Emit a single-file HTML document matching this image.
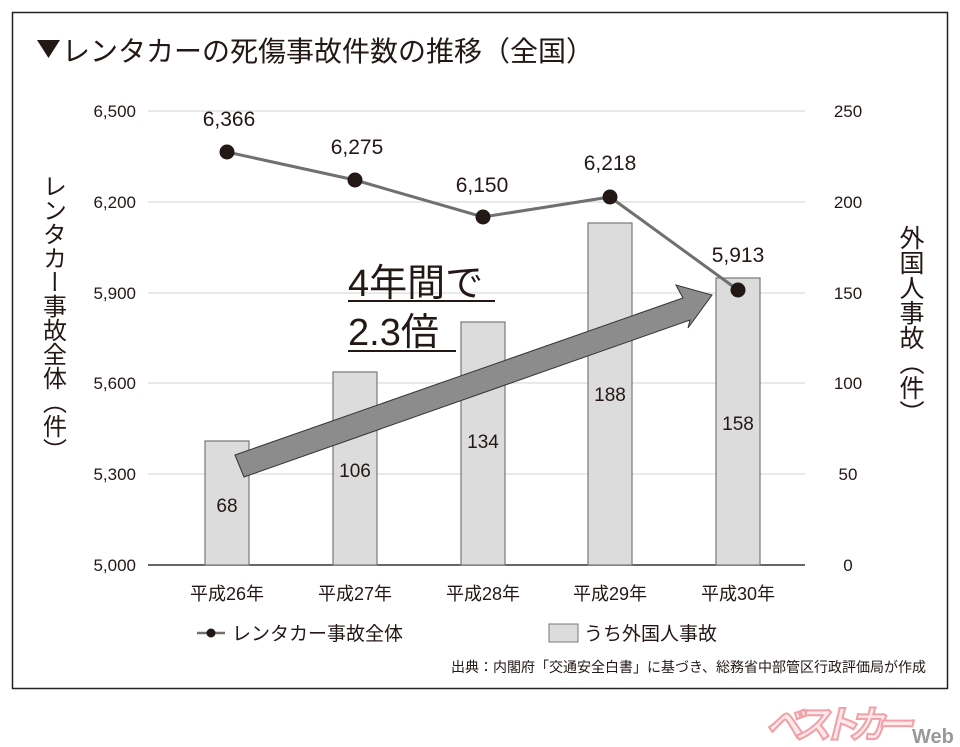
<!DOCTYPE html>
<html><head><meta charset="utf-8"><style>
html,body{margin:0;padding:0;background:#fff;}
svg{display:block;font-family:"Liberation Sans","Noto Sans CJK JP",sans-serif;}
</style></head><body>
<svg width="960" height="747" viewBox="0 0 960 747" xmlns="http://www.w3.org/2000/svg">
<rect x="12.5" y="12.5" width="935" height="676" fill="#fff" stroke="#222" stroke-width="1.5"/>
<polygon points="37,40 60,40 48.5,58" fill="#231815"/>
<text x="62" y="61" font-size="28" fill="#231815">レンタカーの死傷事故件数の推移（全国）</text>
<g stroke="#e2e2e2" stroke-width="1.5">
<line x1="148" y1="111" x2="805" y2="111"/>
<line x1="148" y1="202" x2="805" y2="202"/>
<line x1="148" y1="293" x2="805" y2="293"/>
<line x1="148" y1="383" x2="805" y2="383"/>
<line x1="148" y1="474" x2="805" y2="474"/>
</g>
<line x1="148" y1="565" x2="805" y2="565" stroke="#333" stroke-width="1.5"/>
<g font-size="17" fill="#231815" text-anchor="end">
<text x="136" y="117">6,500</text><text x="136" y="208">6,200</text><text x="136" y="299">5,900</text>
<text x="136" y="389">5,600</text><text x="136" y="480">5,300</text><text x="136" y="571">5,000</text>
</g>
<g font-size="17" fill="#231815" text-anchor="middle">
<text x="848" y="117">250</text><text x="848" y="208">200</text><text x="848" y="299">150</text>
<text x="848" y="389">100</text><text x="848" y="480">50</text><text x="848" y="571">0</text>
</g>
<g fill="#231815" text-anchor="middle">
<text x="52" y="318" font-size="24" style="writing-mode:vertical-rl">レンタカー事故全体（件）</text>
<text x="910" y="325" font-size="25" style="writing-mode:vertical-rl">外国人事故（件）</text>
</g>
<g fill="#dcdcdc" stroke="#777" stroke-width="1.2">
<rect x="205" y="441" width="44" height="124"/>
<rect x="333" y="372" width="44" height="193"/>
<rect x="461" y="322" width="44" height="243"/>
<rect x="588" y="223" width="44" height="342"/>
<rect x="716" y="278" width="44" height="287"/>
</g>
<g font-size="19" fill="#231815" text-anchor="middle">
<text x="227" y="512">68</text><text x="355" y="477">106</text><text x="483" y="448">134</text>
<text x="610" y="401">188</text><text x="738" y="430">158</text>
</g>
<polygon points="235,455 683,298 676,285 712,295 688,328 690,320 244,477" fill="#8c8c8c" stroke="#333" stroke-width="1"/>
<text x="348" y="296" font-size="38" fill="#231815">4年間で</text>
<line x1="348" y1="301" x2="495" y2="301" stroke="#231815" stroke-width="2"/>
<text x="348" y="345" font-size="38" fill="#231815">2.3倍</text>
<line x1="348" y1="351" x2="456" y2="351" stroke="#231815" stroke-width="2"/>
<polyline points="227,152 355,180 483,217 610,197 738,290" fill="none" stroke="#707070" stroke-width="3"/>
<g fill="#231815">
<circle cx="227" cy="152" r="7.5"/><circle cx="355" cy="180" r="7.5"/><circle cx="483" cy="217" r="7.5"/>
<circle cx="610" cy="197" r="7.5"/><circle cx="738" cy="290" r="7.5"/>
</g>
<g font-size="21" fill="#231815" text-anchor="middle">
<text x="229" y="126">6,366</text><text x="357" y="154">6,275</text><text x="482" y="192">6,150</text>
<text x="610" y="170">6,218</text><text x="738" y="262">5,913</text>
</g>
<g font-size="18" fill="#231815" text-anchor="middle">
<text x="227" y="600">平成26年</text><text x="355" y="600">平成27年</text><text x="483" y="600">平成28年</text>
<text x="610" y="600">平成29年</text><text x="738" y="600">平成30年</text>
</g>
<line x1="197" y1="633" x2="225" y2="633" stroke="#707070" stroke-width="2.5"/>
<circle cx="211" cy="633" r="4.5" fill="#231815"/>
<text x="232" y="640" font-size="19" fill="#231815">レンタカー事故全体</text>
<rect x="549" y="624" width="29" height="18" fill="#dcdcdc" stroke="#777"/>
<text x="584" y="640" font-size="19" fill="#231815">うち外国人事故</text>
<text x="926" y="672" font-size="14" fill="#231815" text-anchor="end">出典：内閣府「交通安全白書」に基づき、総務省中部管区行政評価局が作成</text>
<text x="765" y="738" font-size="38" font-style="italic" font-weight="bold" fill="#fde8ea" stroke="#f2a0a8" stroke-width="2" textLength="148">ベストカー</text>
<text x="912" y="743" font-size="20" font-weight="bold" fill="#999">Web</text>
</svg>
</body></html>
